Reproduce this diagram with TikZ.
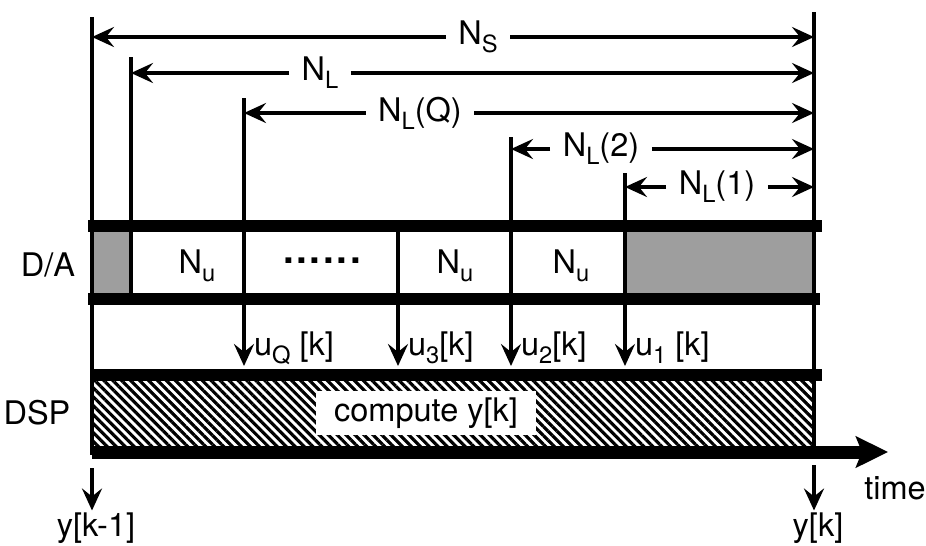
\documentclass[tikz,border=0pt]{standalone}
\usepackage{fontspec}
\setmainfont{TeX Gyre Heros}
\usetikzlibrary{arrows.meta,patterns.meta}
\newcommand{\lowsub}[1]{\raisebox{-4.5pt}{\fontsize{13.5}{13.5}\selectfont #1}}
\tikzset{
  tip/.style={-{Stealth[length=4.4mm,width=4mm,inset=1.6mm]}},
  dimarrow/.style={tip,line width=1.9pt},
  tickline/.style={line width=2.1pt},
  sample/.style={tip,line width=2.1pt},
  bar/.style={line width=6.8pt},
  shade/.style={fill=black!38},
  hatch/.style={pattern={Lines[angle=-45,distance=3.6pt,line width=1.8pt]}},
  txt/.style={font=\fontsize{18.5}{20}\selectfont,inner sep=1pt},
  dimlabel/.style={txt,inner xsep=7pt}
}
\begin{document}
\begin{tikzpicture}[x=0.02cm,y=-0.02cm]
  \useasboundingbox (0,0) rectangle (926,545);

  % fills of the D/A and DSP rows
  \fill[shade] (92,232) rectangle (131,293);
  \fill[shade] (625,232) rectangle (814,293);
  \fill[hatch] (92,381) rectangle (814,447);

  % row borders and time axis
  \draw[bar] (88,226) -- (822,226);
  \draw[bar] (88,299) -- (820,299);
  \draw[bar] (92,375) -- (822,375);
  \draw[line width=7.4pt,-{Stealth[length=6.4mm,width=6.2mm,inset=1.2mm]}]
    (92,452) -- (888,452);
  \node[txt] (time) at (895,488) {time};

  % tick points
  \coordinate (s0) at (92,17);
  \coordinate (s1) at (814,12);
  \coordinate (l0) at (131,57);
  \coordinate (q0) at (244,98);
  \coordinate (c3) at (398,226);
  \coordinate (c2) at (511,137);
  \coordinate (c1) at (625,173);
  \draw[tickline] (s0) -- (92,455);
  \draw[tickline] (s1) -- (814,455);
  \draw[tickline] (l0) -- (131,299);

  % sampling instants
  \node[txt,anchor=west] (uQ) at (252,348) {u\lowsub{Q} [k]};
  \node[txt,anchor=west] (u3) at (406,348) {u\lowsub{3}[k]};
  \node[txt,anchor=west] (u2) at (519,348) {u\lowsub{2}[k]};
  \node[txt,anchor=west] (u1) at (633,348) {u\lowsub{1} [k]};
  \draw[sample] (q0) -- (244,366);
  \draw[sample] (c3) -- (398,366);
  \draw[sample] (c2) -- (511,366);
  \draw[sample] (c1) -- (625,366);

  % latency dimensions
  \node[dimlabel] (ns) at (478,37) {N\lowsub{S}};
  \node[dimlabel] (nl) at (320,73) {N\lowsub{L}};
  \node[dimlabel] (nlq) at (420,113) {N\lowsub{L}(Q)};
  \node[dimlabel] (nl2) at (601,149) {N\lowsub{L}(2)};
  \node[dimlabel] (nl1) at (717,187) {N\lowsub{L}(1)};
  \draw[dimarrow] (ns) -- (s0 |- ns);
  \draw[dimarrow] (ns) -- (s1 |- ns);
  \draw[dimarrow] (nl) -- (l0 |- nl);
  \draw[dimarrow] (nl) -- (s1 |- nl);
  \draw[dimarrow] (nlq) -- (q0 |- nlq);
  \draw[dimarrow] (nlq) -- (s1 |- nlq);
  \draw[dimarrow] (nl2) -- (c2 |- nl2);
  \draw[dimarrow] (nl2) -- (s1 |- nl2);
  \draw[dimarrow] (nl1) -- (c1 |- nl1);
  \draw[dimarrow] (nl1) -- (s1 |- nl1);

  % row contents
  \node[txt] (da) at (48,265) {D/A};
  \node[txt] (dsp) at (37,413) {DSP};
  \node[txt] (nu1) at (197,266) {N\lowsub{u}};
  \node[txt,font=\fontsize{22}{22}\selectfont\bfseries] (dots) at (322,261) {.\kern1.5pt.\kern1.5pt.\kern1.5pt.\kern1.5pt.\kern1.5pt.};
  \node[txt] (nu3) at (455,266) {N\lowsub{u}};
  \node[txt] (nu2) at (571,266) {N\lowsub{u}};
  \node[txt,fill=white,inner xsep=10pt,inner ysep=4pt] (comp) at (426,413) {compute y[k]};

  % outputs
  \node[txt] (ykm) at (96,528) {y[k-1]};
  \node[txt] (yk) at (818,528) {y[k]};
  \coordinate (ykmtop) at (92,468);
  \coordinate (yktop) at (814,465);
  \draw[sample] (ykmtop) -- (ykmtop |- ykm.north);
  \draw[sample] (yktop) -- (yktop |- yk.north);
\end{tikzpicture}
\end{document}
